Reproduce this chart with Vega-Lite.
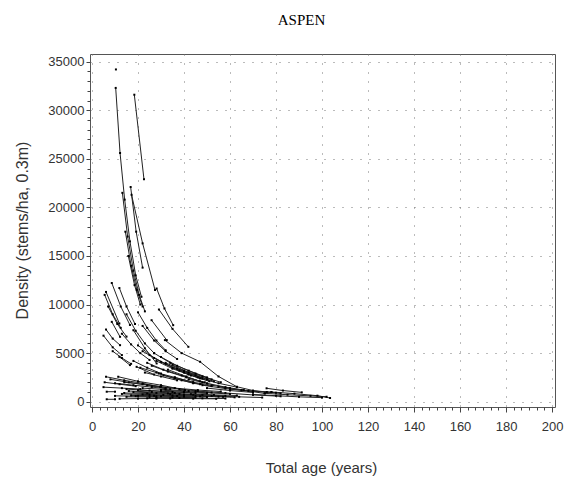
{
  "$schema": "https://vega.github.io/schema/vega-lite/v6.json",
  "width": 465,
  "height": 353,
  "autosize": {"type": "none"},
  "padding": {"left": 90, "top": 54, "right": 13, "bottom": 75},
  "background": "white",
  "title": {"text": "ASPEN", "font": "Liberation Serif", "fontSize": 15, "fontWeight": "normal", "anchor": "middle", "dx": -21, "offset": 14, "baseline": "alphabetic", "color": "#000"},
  "config": {"view": {"stroke": "#555", "strokeWidth": 1}},
  "data": {"values": [
    {"id": 0, "age": 10.4, "density": 34200},
    {"id": 1, "age": 10.3, "density": 32300}, {"id": 1, "age": 12.2, "density": 25600}, {"id": 1, "age": 14.2, "density": 20800}, {"id": 1, "age": 16.5, "density": 16500}, {"id": 1, "age": 19, "density": 13000}, {"id": 1, "age": 21.5, "density": 10800},
    {"id": 2, "age": 18.4, "density": 31600}, {"id": 2, "age": 22.6, "density": 22900},
    {"id": 3, "age": 13.2, "density": 21500}, {"id": 3, "age": 15.5, "density": 17000}, {"id": 3, "age": 18, "density": 13500}, {"id": 3, "age": 20.5, "density": 11000}, {"id": 3, "age": 23, "density": 9300},
    {"id": 4, "age": 16.8, "density": 22100}, {"id": 4, "age": 19.2, "density": 17500}, {"id": 4, "age": 22, "density": 13800},
    {"id": 5, "age": 17.2, "density": 21300}, {"id": 5, "age": 22, "density": 16300}, {"id": 5, "age": 27.4, "density": 11500},
    {"id": 6, "age": 14.5, "density": 17500}, {"id": 6, "age": 17, "density": 14000}, {"id": 6, "age": 19.5, "density": 11500}, {"id": 6, "age": 22, "density": 9800},
    {"id": 7, "age": 15.8, "density": 15000}, {"id": 7, "age": 18.5, "density": 12000}, {"id": 7, "age": 21, "density": 10000},
    {"id": 8, "age": 6.1, "density": 11300}, {"id": 8, "age": 11.9, "density": 8050},
    {"id": 9, "age": 8.6, "density": 12220}, {"id": 9, "age": 12.5, "density": 9800}, {"id": 9, "age": 16.5, "density": 7900},
    {"id": 10, "age": 11.9, "density": 11700}, {"id": 10, "age": 15, "density": 9800}, {"id": 10, "age": 18.7, "density": 8000},
    {"id": 11, "age": 6.1, "density": 7430}, {"id": 11, "age": 9, "density": 6500}, {"id": 11, "age": 12.2, "density": 5820},
    {"id": 12, "age": 8.6, "density": 8220}, {"id": 12, "age": 12.2, "density": 6680},
    {"id": 13, "age": 11.9, "density": 4620}, {"id": 13, "age": 16.5, "density": 3770},
    {"id": 14, "age": 25.9, "density": 8390}, {"id": 14, "age": 32.5, "density": 6340},
    {"id": 15, "age": 29.1, "density": 9490}, {"id": 15, "age": 35, "density": 7500}, {"id": 15, "age": 41.9, "density": 5650},
    {"id": 16, "age": 28.1, "density": 11650}, {"id": 16, "age": 31.5, "density": 9600}, {"id": 16, "age": 35.3, "density": 7880},
    {"id": 17, "age": 31.7, "density": 6340}, {"id": 17, "age": 39, "density": 5000}, {"id": 17, "age": 47, "density": 4110}, {"id": 17, "age": 55, "density": 2600}, {"id": 17, "age": 63, "density": 1540}, {"id": 17, "age": 70, "density": 1150}, {"id": 17, "age": 76, "density": 1000}, {"id": 17, "age": 82, "density": 860},
    {"id": 18, "age": 18, "density": 7360}, {"id": 18, "age": 23, "density": 5500}, {"id": 18, "age": 28.1, "density": 3940},
    {"id": 19, "age": 19.4, "density": 3590}, {"id": 19, "age": 27, "density": 2800},
    {"id": 21, "age": 20, "density": 5800}, {"id": 21, "age": 27, "density": 4500}, {"id": 21, "age": 35, "density": 3500}, {"id": 21, "age": 42, "density": 2800},
    {"id": 22, "age": 22, "density": 5200}, {"id": 22, "age": 30, "density": 4100}, {"id": 22, "age": 38, "density": 3200}, {"id": 22, "age": 46, "density": 2500},
    {"id": 23, "age": 25, "density": 4800}, {"id": 23, "age": 32, "density": 3900}, {"id": 23, "age": 40, "density": 3100}, {"id": 23, "age": 48, "density": 2400},
    {"id": 24, "age": 27, "density": 5000}, {"id": 24, "age": 34, "density": 4000}, {"id": 24, "age": 42, "density": 3200}, {"id": 24, "age": 50, "density": 2500},
    {"id": 25, "age": 30, "density": 4600}, {"id": 25, "age": 37, "density": 3700}, {"id": 25, "age": 45, "density": 2900}, {"id": 25, "age": 52, "density": 2300},
    {"id": 26, "age": 28, "density": 4200}, {"id": 26, "age": 35, "density": 3400}, {"id": 26, "age": 43, "density": 2700}, {"id": 26, "age": 51, "density": 2100},
    {"id": 27, "age": 32, "density": 4000}, {"id": 27, "age": 40, "density": 3200}, {"id": 27, "age": 48, "density": 2600}, {"id": 27, "age": 56, "density": 2000},
    {"id": 28, "age": 24, "density": 4000}, {"id": 28, "age": 31, "density": 3300}, {"id": 28, "age": 39, "density": 2700}, {"id": 28, "age": 47, "density": 2100},
    {"id": 29, "age": 26, "density": 3700}, {"id": 29, "age": 33, "density": 3100}, {"id": 29, "age": 41, "density": 2500}, {"id": 29, "age": 49, "density": 2000},
    {"id": 30, "age": 35, "density": 3800}, {"id": 30, "age": 42, "density": 3000}, {"id": 30, "age": 50, "density": 2300},
    {"id": 31, "age": 33, "density": 3300}, {"id": 31, "age": 41, "density": 2600}, {"id": 31, "age": 48, "density": 2000},
    {"id": 32, "age": 21, "density": 3500}, {"id": 32, "age": 28, "density": 3000}, {"id": 32, "age": 36, "density": 2500}, {"id": 32, "age": 44, "density": 2000},
    {"id": 33, "age": 37, "density": 3400}, {"id": 33, "age": 45, "density": 2700}, {"id": 33, "age": 53, "density": 2100},
    {"id": 34, "age": 40, "density": 3000}, {"id": 34, "age": 47, "density": 2400}, {"id": 34, "age": 55, "density": 1900}, {"id": 34, "age": 63, "density": 1500},
    {"id": 35, "age": 18, "density": 4200}, {"id": 35, "age": 24, "density": 3500}, {"id": 35, "age": 30, "density": 2900},
    {"id": 36, "age": 23, "density": 3000}, {"id": 36, "age": 30, "density": 2600}, {"id": 36, "age": 37, "density": 2200},
    {"id": 37, "age": 29, "density": 2900}, {"id": 37, "age": 36, "density": 2400}, {"id": 37, "age": 44, "density": 1900}, {"id": 37, "age": 52, "density": 1600},
    {"id": 38, "age": 31, "density": 2700}, {"id": 38, "age": 39, "density": 2200}, {"id": 38, "age": 47, "density": 1800},
    {"id": 39, "age": 36, "density": 2500}, {"id": 39, "age": 44, "density": 2000}, {"id": 39, "age": 52, "density": 1700}, {"id": 39, "age": 60, "density": 1400},
    {"id": 40, "age": 42, "density": 2300}, {"id": 40, "age": 50, "density": 1900}, {"id": 40, "age": 58, "density": 1500}, {"id": 40, "age": 66, "density": 1200},
    {"id": 42, "age": 6.1, "density": 2570}, {"id": 42, "age": 14, "density": 2200}, {"id": 42, "age": 22, "density": 1900}, {"id": 42, "age": 29.6, "density": 1540},
    {"id": 43, "age": 8, "density": 2300}, {"id": 43, "age": 16, "density": 2000}, {"id": 43, "age": 24, "density": 1700}, {"id": 43, "age": 32, "density": 1400},
    {"id": 44, "age": 11.4, "density": 2570}, {"id": 44, "age": 20, "density": 2100}, {"id": 44, "age": 30, "density": 1700}, {"id": 44, "age": 40.4, "density": 1200},
    {"id": 45, "age": 10, "density": 1900}, {"id": 45, "age": 18, "density": 1700}, {"id": 45, "age": 26, "density": 1500}, {"id": 45, "age": 34, "density": 1300},
    {"id": 46, "age": 14, "density": 2000}, {"id": 46, "age": 22, "density": 1800}, {"id": 46, "age": 30, "density": 1550}, {"id": 46, "age": 38, "density": 1300}, {"id": 46, "age": 46, "density": 1100},
    {"id": 47, "age": 5.5, "density": 2000}, {"id": 47, "age": 12, "density": 1800}, {"id": 47, "age": 19, "density": 1600},
    {"id": 48, "age": 6.4, "density": 1030}, {"id": 48, "age": 10, "density": 1030},
    {"id": 49, "age": 6.4, "density": 250}, {"id": 49, "age": 10, "density": 250},
    {"id": 50, "age": 15, "density": 1300}, {"id": 50, "age": 25, "density": 1150}, {"id": 50, "age": 35, "density": 1000}, {"id": 50, "age": 45, "density": 900},
    {"id": 51, "age": 13, "density": 800}, {"id": 51, "age": 22, "density": 750}, {"id": 51, "age": 31, "density": 700}, {"id": 51, "age": 40, "density": 650},
    {"id": 52, "age": 15, "density": 500}, {"id": 52, "age": 25, "density": 480}, {"id": 52, "age": 35, "density": 450}, {"id": 52, "age": 45, "density": 420},
    {"id": 53, "age": 18, "density": 1000}, {"id": 53, "age": 28, "density": 900}, {"id": 53, "age": 38, "density": 800}, {"id": 53, "age": 48, "density": 700}, {"id": 53, "age": 58, "density": 600},
    {"id": 54, "age": 20, "density": 600}, {"id": 54, "age": 30, "density": 560}, {"id": 54, "age": 40, "density": 520}, {"id": 54, "age": 50, "density": 480},
    {"id": 55, "age": 12, "density": 300}, {"id": 55, "age": 20, "density": 320}, {"id": 55, "age": 28, "density": 330},
    {"id": 56, "age": 22, "density": 1400}, {"id": 56, "age": 32, "density": 1250}, {"id": 56, "age": 42, "density": 1100}, {"id": 56, "age": 52, "density": 950},
    {"id": 57, "age": 16, "density": 1100}, {"id": 57, "age": 26, "density": 1000}, {"id": 57, "age": 36, "density": 900},
    {"id": 58, "age": 25, "density": 700}, {"id": 58, "age": 35, "density": 650}, {"id": 58, "age": 45, "density": 600}, {"id": 58, "age": 55, "density": 520}, {"id": 58, "age": 62, "density": 450},
    {"id": 59, "age": 28, "density": 400}, {"id": 59, "age": 38, "density": 380}, {"id": 59, "age": 48, "density": 350}, {"id": 59, "age": 58, "density": 330},
    {"id": 60, "age": 30, "density": 1200}, {"id": 60, "age": 40, "density": 1050}, {"id": 60, "age": 50, "density": 920}, {"id": 60, "age": 60, "density": 800},
    {"id": 61, "age": 75.9, "density": 1380}, {"id": 61, "age": 83, "density": 1150}, {"id": 61, "age": 91.2, "density": 960},
    {"id": 62, "age": 75.2, "density": 860}, {"id": 62, "age": 85, "density": 720}, {"id": 62, "age": 95, "density": 600}, {"id": 62, "age": 102, "density": 510},
    {"id": 63, "age": 78, "density": 1000}, {"id": 63, "age": 88, "density": 830}, {"id": 63, "age": 98, "density": 620}, {"id": 63, "age": 103.5, "density": 380},
    {"id": 64, "age": 60, "density": 1300}, {"id": 64, "age": 70, "density": 1100}, {"id": 64, "age": 80, "density": 920},
    {"id": 65, "age": 55, "density": 1540}, {"id": 65, "age": 65, "density": 1200}, {"id": 65, "age": 75, "density": 860},
    {"id": 66, "age": 50, "density": 1400}, {"id": 66, "age": 60, "density": 1150}, {"id": 66, "age": 70, "density": 950},
    {"id": 67, "age": 45, "density": 1100}, {"id": 67, "age": 58, "density": 900}, {"id": 67, "age": 70, "density": 700}, {"id": 67, "age": 82, "density": 560},
    {"id": 68, "age": 70, "density": 750}, {"id": 68, "age": 80, "density": 620}, {"id": 68, "age": 90, "density": 500}, {"id": 68, "age": 100, "density": 420},
    {"id": 69, "age": 40, "density": 700}, {"id": 69, "age": 52, "density": 600}, {"id": 69, "age": 64, "density": 500}, {"id": 69, "age": 74, "density": 430},
    {"id": 70, "age": 48, "density": 1700}, {"id": 70, "age": 58, "density": 1350}, {"id": 70, "age": 68, "density": 1100}, {"id": 70, "age": 78, "density": 980},
    {"id": 71, "age": 5.5, "density": 11000}, {"id": 71, "age": 9, "density": 9000}, {"id": 71, "age": 12.5, "density": 7600},
    {"id": 72, "age": 7, "density": 9800}, {"id": 72, "age": 11, "density": 8000}, {"id": 72, "age": 15, "density": 6700},
    {"id": 73, "age": 5, "density": 6800}, {"id": 73, "age": 9, "density": 5600}, {"id": 73, "age": 13, "density": 4800},
    {"id": 74, "age": 9, "density": 5200}, {"id": 74, "age": 13, "density": 4500}, {"id": 74, "age": 17, "density": 3900},
    {"id": 75, "age": 13, "density": 7000}, {"id": 75, "age": 17, "density": 5900}, {"id": 75, "age": 21, "density": 5000}, {"id": 75, "age": 25, "density": 4300},
    {"id": 76, "age": 15, "density": 9000}, {"id": 76, "age": 19, "density": 7300}, {"id": 76, "age": 23, "density": 6000}, {"id": 76, "age": 27, "density": 5000},
    {"id": 77, "age": 20, "density": 9200}, {"id": 77, "age": 24, "density": 7600}, {"id": 77, "age": 28, "density": 6300}, {"id": 77, "age": 32, "density": 5300},
    {"id": 78, "age": 22, "density": 7800}, {"id": 78, "age": 27, "density": 6300}, {"id": 78, "age": 32, "density": 5200}, {"id": 78, "age": 37, "density": 4400},
    {"id": 79, "age": 14, "density": 900}, {"id": 79, "age": 24, "density": 850}, {"id": 79, "age": 34, "density": 780}, {"id": 79, "age": 44, "density": 720},
    {"id": 80, "age": 17, "density": 650}, {"id": 80, "age": 27, "density": 620}, {"id": 80, "age": 37, "density": 590}, {"id": 80, "age": 47, "density": 550}, {"id": 80, "age": 57, "density": 500},
    {"id": 81, "age": 20, "density": 1200}, {"id": 81, "age": 30, "density": 1080}, {"id": 81, "age": 40, "density": 960}, {"id": 81, "age": 50, "density": 850},
    {"id": 82, "age": 24, "density": 350}, {"id": 82, "age": 34, "density": 340}, {"id": 82, "age": 44, "density": 320}, {"id": 82, "age": 54, "density": 300},
    {"id": 83, "age": 26, "density": 1600}, {"id": 83, "age": 36, "density": 1400}, {"id": 83, "age": 46, "density": 1200}, {"id": 83, "age": 56, "density": 1050},
    {"id": 84, "age": 10, "density": 600}, {"id": 84, "age": 19, "density": 580}, {"id": 84, "age": 28, "density": 560},
    {"id": 85, "age": 33, "density": 850}, {"id": 85, "age": 43, "density": 780}, {"id": 85, "age": 53, "density": 700}, {"id": 85, "age": 63, "density": 640},
    {"id": 86, "age": 5, "density": 1500}, {"id": 86, "age": 13, "density": 1400}, {"id": 86, "age": 21, "density": 1300}
  ]},
  "layer": [
    {
      "mark": {"type": "line", "color": "#222", "strokeWidth": 1, "clip": true},
      "encoding": {
        "x": {"field": "age", "type": "quantitative",
          "scale": {"domain": [-0.87, 201.3], "nice": false, "zero": false},
          "axis": {"orient": "bottom", "values": [0, 20, 40, 60, 80, 100, 120, 140, 160, 180, 200], "grid": true, "gridDash": [1, 8], "gridColor": "#777", "gridWidth": 1, "tickSize": 5, "tickColor": "#444", "domain": false, "labelFont": "Liberation Sans", "labelFontSize": 13, "labelColor": "#333", "labelPadding": 8, "labelFlush": false, "title": "Total age (years)", "titleFont": "Liberation Sans", "titleFontSize": 15, "titleFontWeight": "normal", "titleColor": "#333", "titleX": 231, "titleY": 60, "titleAlign": "center", "titleBaseline": "middle"}},
        "y": {"field": "density", "type": "quantitative",
          "scale": {"domain": [-544, 35790], "nice": false, "zero": false},
          "axis": {"orient": "left", "values": [0, 5000, 10000, 15000, 20000, 25000, 30000, 35000], "grid": true, "gridDash": [1, 8], "gridColor": "#777", "gridWidth": 1, "tickSize": 4, "tickColor": "#444", "domain": false, "labelFont": "Liberation Sans", "labelFontSize": 13, "labelColor": "#333", "labelPadding": 2, "labelFlush": false, "format": "d", "title": "Density (stems/ha, 0.3m)", "titleFont": "Liberation Sans", "titleFontSize": 16, "titleFontWeight": "normal", "titleColor": "#333", "titleX": -68, "titleY": 176, "titleAngle": -90, "titleAlign": "center", "titleBaseline": "middle"}},
        "detail": {"field": "id", "type": "nominal"},
        "order": {"field": "age", "type": "quantitative"}
      }
    },
    {
      "mark": {"type": "point", "shape": "square", "filled": true, "size": 4, "color": "#000", "opacity": 1},
      "encoding": {
        "x": {"field": "age", "type": "quantitative",
          "axis": {"orient": "bottom", "values": [3.33, 6.67, 10, 13.33, 16.67, 23.33, 26.67, 30, 33.33, 36.67, 43.33, 46.67, 50, 53.33, 56.67, 63.33, 66.67, 70, 73.33, 76.67, 83.33, 86.67, 90, 93.33, 96.67, 103.33, 106.67, 110, 113.33, 116.67, 123.33, 126.67, 130, 133.33, 136.67, 143.33, 146.67, 150, 153.33, 156.67, 163.33, 166.67, 170, 173.33, 176.67, 183.33, 186.67, 190, 193.33, 196.67], "labels": false, "grid": false, "domain": false, "tickSize": 3, "tickColor": "#444", "title": null}},
        "y": {"field": "density", "type": "quantitative",
          "axis": {"orient": "left", "values": [1000, 2000, 3000, 4000, 6000, 7000, 8000, 9000, 11000, 12000, 13000, 14000, 16000, 17000, 18000, 19000, 21000, 22000, 23000, 24000, 26000, 27000, 28000, 29000, 31000, 32000, 33000, 34000], "labels": false, "grid": false, "domain": false, "tickSize": 3, "tickColor": "#444", "title": null}}
      }
    }
  ],
  "resolve": {"axis": {"x": "independent", "y": "independent"}}
}
